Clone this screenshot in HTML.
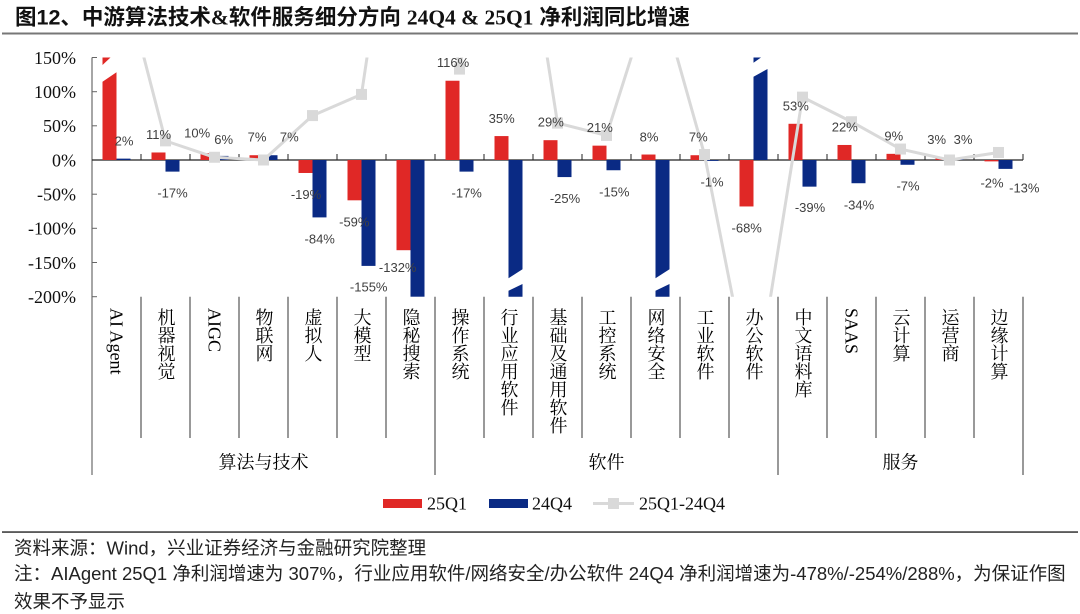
<!DOCTYPE html>
<html><head><meta charset="utf-8">
<style>
html,body{margin:0;padding:0;background:#fff;}
body{width:1080px;height:614px;position:relative;overflow:hidden;}
.cat{position:absolute;top:308px;width:18px;writing-mode:vertical-rl;font-family:"Liberation Serif","Noto Serif CJK SC",serif;font-size:18px;line-height:18px;white-space:nowrap;color:#000;}
</style></head>
<body>
<svg width="1080" height="614" style="position:absolute;left:0;top:0" xmlns="http://www.w3.org/2000/svg">
<defs><clipPath id="pc"><rect x="92" y="57.5" width="931" height="239.2"/></clipPath></defs>
<!-- title -->
<text x="15" y="24.5" font-size="21.5" font-weight="bold" font-family="'Liberation Sans','Noto Sans CJK SC',sans-serif" fill="#111">图12、中游算法技术<tspan font-family="'Liberation Serif','Noto Serif CJK SC',serif">&amp;</tspan>软件服务细分方向 <tspan font-family="'Liberation Serif','Noto Serif CJK SC',serif">24Q4 &amp; 25Q1</tspan> 净利润同比增速</text>
<rect x="2" y="32.5" width="1076" height="2" fill="#777"/>

<!-- y axis -->
<line x1="92" y1="57.5" x2="92" y2="475" stroke="#888" stroke-width="1.5"/>
<g stroke="#666" stroke-width="1">
<line x1="92" y1="57.5" x2="97" y2="57.5"/><line x1="92" y1="91.7" x2="97" y2="91.7"/><line x1="92" y1="125.8" x2="97" y2="125.8"/><line x1="92" y1="194.2" x2="97" y2="194.2"/><line x1="92" y1="228.3" x2="97" y2="228.3"/><line x1="92" y1="262.5" x2="97" y2="262.5"/><line x1="92" y1="296.7" x2="97" y2="296.7"/>
</g>
<g font-family="'Liberation Serif',serif" font-size="18" fill="#111" text-anchor="end">
<text x="76" y="63.8">150%</text><text x="76" y="98">100%</text><text x="76" y="132.1">50%</text><text x="76" y="166.3">0%</text><text x="76" y="200.5">-50%</text><text x="76" y="234.6">-100%</text><text x="76" y="268.8">-150%</text><text x="76" y="303">-200%</text>
</g>

<!-- category grid lines below plot -->
<g stroke="#333" stroke-width="1">
<line x1="141" y1="296.7" x2="141" y2="438"/><line x1="190" y1="296.7" x2="190" y2="438"/><line x1="239" y1="296.7" x2="239" y2="438"/><line x1="288" y1="296.7" x2="288" y2="438"/><line x1="337" y1="296.7" x2="337" y2="438"/><line x1="386" y1="296.7" x2="386" y2="438"/>
<line x1="435" y1="296.7" x2="435" y2="475"/>
<line x1="484" y1="296.7" x2="484" y2="438"/><line x1="533" y1="296.7" x2="533" y2="438"/><line x1="582" y1="296.7" x2="582" y2="438"/><line x1="631" y1="296.7" x2="631" y2="438"/><line x1="680" y1="296.7" x2="680" y2="438"/><line x1="729" y1="296.7" x2="729" y2="438"/>
<line x1="778" y1="296.7" x2="778" y2="475"/>
<line x1="827" y1="296.7" x2="827" y2="438"/><line x1="876" y1="296.7" x2="876" y2="438"/><line x1="925" y1="296.7" x2="925" y2="438"/><line x1="974" y1="296.7" x2="974" y2="438"/>
<line x1="1023" y1="296.7" x2="1023" y2="475"/>
</g>

<!-- zero axis -->
<line x1="92" y1="160" x2="1023" y2="160" stroke="#222" stroke-width="1.3"/>
<g stroke="#222" stroke-width="1">
<line x1="141" y1="154" x2="141" y2="160"/><line x1="190" y1="154" x2="190" y2="160"/><line x1="239" y1="154" x2="239" y2="160"/><line x1="288" y1="154" x2="288" y2="160"/><line x1="337" y1="154" x2="337" y2="160"/><line x1="386" y1="154" x2="386" y2="160"/><line x1="435" y1="154" x2="435" y2="160"/><line x1="484" y1="154" x2="484" y2="160"/><line x1="533" y1="154" x2="533" y2="160"/><line x1="582" y1="154" x2="582" y2="160"/><line x1="631" y1="154" x2="631" y2="160"/><line x1="680" y1="154" x2="680" y2="160"/><line x1="729" y1="154" x2="729" y2="160"/><line x1="778" y1="154" x2="778" y2="160"/><line x1="827" y1="154" x2="827" y2="160"/><line x1="876" y1="154" x2="876" y2="160"/><line x1="925" y1="154" x2="925" y2="160"/><line x1="974" y1="154" x2="974" y2="160"/><line x1="1023" y1="154" x2="1023" y2="160"/>
</g>

<!-- red bars 25Q1 -->
<g fill="#E02826">
<polygon points="102.5,57.5 110.5,57.5 102.5,65"/>
<polygon points="102.5,81.7 116.5,72.3 116.5,160 102.5,160"/>
<rect x="151.5" y="152.48" width="14" height="7.52"/>
<rect x="200.5" y="153.17" width="14" height="6.83"/>
<rect x="249.5" y="155.22" width="14" height="4.78"/>
<rect x="298.5" y="160" width="14" height="12.98"/>
<rect x="347.5" y="160" width="14" height="40.31"/>
<rect x="396.5" y="160" width="14" height="90.2"/>
<rect x="445.5" y="80.74" width="14" height="79.26"/>
<rect x="494.5" y="136.08" width="14" height="23.92"/>
<rect x="543.5" y="140.18" width="14" height="19.82"/>
<rect x="592.5" y="145.65" width="14" height="14.35"/>
<rect x="641.5" y="154.53" width="14" height="5.47"/>
<rect x="690.5" y="155.22" width="14" height="4.78"/>
<rect x="739.5" y="160" width="14" height="46.46"/>
<rect x="788.5" y="123.79" width="14" height="36.21"/>
<rect x="837.5" y="144.97" width="14" height="15.03"/>
<rect x="886.5" y="153.85" width="14" height="6.15"/>
<rect x="935.5" y="157.95" width="14" height="2.05"/>
<rect x="984.5" y="160" width="14" height="1.37"/>
</g>

<!-- blue bars 24Q4 -->
<g fill="#0A2A84">
<rect x="116.5" y="158.63" width="14" height="1.37"/>
<rect x="165.5" y="160" width="14" height="11.62"/>
<rect x="214.5" y="155.9" width="14" height="4.1"/>
<rect x="263.5" y="155.22" width="14" height="4.78"/>
<rect x="312.5" y="160" width="14" height="57.4"/>
<rect x="361.5" y="160" width="14" height="105.9"/>
<rect x="410.5" y="160" width="14" height="136.7"/>
<rect x="459.5" y="160" width="14" height="11.62"/>
<polygon points="508.5,160 522.5,160 522.5,269.3 508.5,278.3"/>
<polygon points="508.5,290.7 522.5,284 522.5,296.7 508.5,296.7"/>
<rect x="557.5" y="160" width="14" height="17.08"/>
<rect x="606.5" y="160" width="14" height="10.25"/>
<polygon points="655.5,160 669.5,160 669.5,269.3 655.5,278.3"/>
<polygon points="655.5,290.7 669.5,284 669.5,296.7 655.5,296.7"/>
<rect x="704.5" y="160" width="14" height="0.9"/>
<polygon points="753.5,57.5 761,57.5 753.5,62.7"/>
<polygon points="753.5,76.7 767.5,69 767.5,160 753.5,160"/>
<rect x="802.5" y="160" width="14" height="26.65"/>
<rect x="851.5" y="160" width="14" height="23.23"/>
<rect x="900.5" y="160" width="14" height="4.78"/>
<rect x="949.5" y="157.95" width="14" height="2.05"/>
<rect x="998.5" y="160" width="14" height="8.88"/>
</g>

<!-- difference line -->
<g clip-path="url(#pc)">
<path d="M116.5,-48.4 L165.5,140.87 L214.5,157.27 L263.5,160 L312.5,115.59 L361.5,94.4 L410.5,-234.3 L459.5,69.12 L508.5,-190.5 L557.5,123.1 L606.5,135.4 L655.5,-19 L704.5,154.53 L753.5,403.3 L802.5,97.14 L851.5,121.74 L900.5,149.07 L949.5,160 L998.5,152.48" fill="none" stroke="#D9D9D9" stroke-width="3" stroke-linejoin="round"/>
<g fill="#D9D9D9">
<rect x="160" y="135.37" width="11" height="11"/>
<rect x="209" y="151.77" width="11" height="11"/>
<rect x="258" y="154.5" width="11" height="11"/>
<rect x="307" y="110.09" width="11" height="11"/>
<rect x="356" y="88.9" width="11" height="11"/>
<rect x="454" y="63.62" width="11" height="11"/>
<rect x="552" y="117.6" width="11" height="11"/>
<rect x="601" y="129.9" width="11" height="11"/>
<rect x="699" y="149.03" width="11" height="11"/>
<rect x="797" y="91.64" width="11" height="11"/>
<rect x="846" y="116.24" width="11" height="11"/>
<rect x="895" y="143.57" width="11" height="11"/>
<rect x="944" y="154.5" width="11" height="11"/>
<rect x="993" y="146.98" width="11" height="11"/>
</g>
</g>

<!-- data labels -->
<g font-family="'Liberation Sans',sans-serif" font-size="13" fill="#404040" text-anchor="middle">
<text x="124" y="145.7">2%</text>
<text x="158.5" y="139.2">11%</text>
<text x="197.2" y="137.4">10%</text>
<text x="223.7" y="144">6%</text>
<text x="257" y="141.4">7%</text>
<text x="289.3" y="141.4">7%</text>
<text x="172.5" y="197.4">-17%</text>
<text x="306" y="199">-19%</text>
<text x="319.7" y="243.4">-84%</text>
<text x="354.3" y="226.4">-59%</text>
<text x="368.7" y="291.4">-155%</text>
<text x="397.7" y="272.2">-132%</text>
<text x="453" y="67">116%</text>
<text x="466.7" y="197.4">-17%</text>
<text x="501.7" y="123">35%</text>
<text x="550.8" y="126.4">29%</text>
<text x="565" y="203">-25%</text>
<text x="599.8" y="132">21%</text>
<text x="614.3" y="196.4">-15%</text>
<text x="649" y="141.4">8%</text>
<text x="698.3" y="141.4">7%</text>
<text x="712" y="186.4">-1%</text>
<text x="746.7" y="232.4">-68%</text>
<text x="795.8" y="110.4">53%</text>
<text x="810" y="212">-39%</text>
<text x="844.8" y="131.4">22%</text>
<text x="859" y="209.7">-34%</text>
<text x="893.8" y="140.7">9%</text>
<text x="908" y="190.7">-7%</text>
<text x="936.7" y="144">3%</text>
<text x="963" y="144">3%</text>
<text x="992" y="187.4">-2%</text>
<text x="1024.3" y="192.4">-13%</text>
</g>

<!-- group labels -->
<g font-family="'Liberation Serif','Noto Serif CJK SC',serif" font-size="18" fill="#000" text-anchor="middle">
<text x="263.5" y="468.5">算法与技术</text>
<text x="606.5" y="468.5">软件</text>
<text x="900.5" y="468.5">服务</text>
</g>

<!-- legend -->
<rect x="383" y="499" width="39" height="9" fill="#E02826"/>
<rect x="489" y="499" width="39" height="9" fill="#0A2A84"/>
<line x1="593" y1="503.5" x2="634" y2="503.5" stroke="#D9D9D9" stroke-width="3"/>
<rect x="608" y="498" width="11" height="11" fill="#D9D9D9"/>
<g font-family="'Liberation Serif',serif" font-size="18" fill="#111">
<text x="427" y="509.6">25Q1</text>
<text x="532" y="509.6">24Q4</text>
<text x="639" y="509.6">25Q1-24Q4</text>
</g>

<!-- footer -->
<rect x="2" y="531.3" width="1076" height="1.5" fill="#333"/>
<g font-family="'Liberation Sans','Noto Sans CJK SC',sans-serif" font-size="18.5" fill="#222">
<text x="14" y="554.3">资料来源：Wind，兴业证券经济与金融研究院整理</text>
<text x="14" y="579.8">注：AIAgent 25Q1 净利润增速为 307%，行业应用软件/网络安全/办公软件 24Q4 净利润增速为-478%/-254%/288%，为保证作图</text>
<text x="14" y="607.8">效果不予显示</text>
</g>
</svg>

<div class="cat" style="left:107.5px">AI Agent</div>
<div class="cat" style="left:156.5px">机器视觉</div>
<div class="cat" style="left:205.5px">AIGC</div>
<div class="cat" style="left:254.5px">物联网</div>
<div class="cat" style="left:303.5px">虚拟人</div>
<div class="cat" style="left:352.5px">大模型</div>
<div class="cat" style="left:401.5px">隐秘搜索</div>
<div class="cat" style="left:450.5px">操作系统</div>
<div class="cat" style="left:499.5px">行业应用软件</div>
<div class="cat" style="left:548.5px">基础及通用软件</div>
<div class="cat" style="left:597.5px">工控系统</div>
<div class="cat" style="left:646.5px">网络安全</div>
<div class="cat" style="left:695.5px">工业软件</div>
<div class="cat" style="left:744.5px">办公软件</div>
<div class="cat" style="left:793.5px">中文语料库</div>
<div class="cat" style="left:842.5px">SAAS</div>
<div class="cat" style="left:891.5px">云计算</div>
<div class="cat" style="left:940.5px">运营商</div>
<div class="cat" style="left:989.5px">边缘计算</div>
</body></html>
